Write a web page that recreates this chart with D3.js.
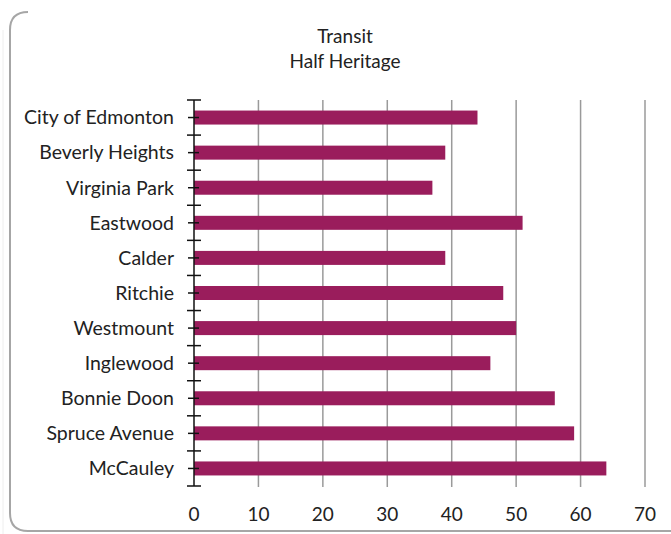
<!DOCTYPE html>
<html>
<head>
<meta charset="utf-8">
<script src="https://cdn.jsdelivr.net/npm/d3@7"></script>
<style>
  body { margin: 0; background: #fff; }
  svg { display: block; }
</style>
</head>
<body>
<div id="chart"></div>
<script>
var categories = ["City of Edmonton", "Beverly Heights", "Virginia Park", "Eastwood", "Calder",
  "Ritchie", "Westmount", "Inglewood", "Bonnie Doon", "Spruce Avenue", "McCauley"];
var values = [44, 39, 37, 51, 39, 48, 50, 46, 56, 59, 64];
var xTicks = [0, 10, 20, 30, 40, 50, 60, 70];
var titleLines = ["Transit", "Half Heritage"];

var width = 671, height = 534;
var plotLeft = 194, plotRight = 645, plotTop = 100, plotBottom = 486;
var font = "Lato, 'Open Sans', sans-serif";

var svg = d3.select("#chart").append("svg")
  .attr("width", width)
  .attr("height", height);

// chart border (rounded, mostly off the right/top edge)
svg.append("path")
  .attr("d", "M28,12 Q10,12 10,30 L10,513 Q10,531 28,531 L680,531")
  .style("fill", "none")
  .style("stroke", "#a6a6a6")
  .style("stroke-width", 2);
svg.append("line")
  .attr("x1", 3).attr("x2", 3).attr("y1", 30).attr("y2", 534)
  .style("stroke", "#eeeeee")
  .style("stroke-width", 1);

var x = d3.scaleLinear().domain([0, 70]).range([plotLeft, plotRight]);
var band = d3.scaleBand().domain(categories).range([plotTop, plotBottom]);

// gridlines
svg.append("g")
  .selectAll("line")
  .data(xTicks.slice(1))
  .join("line")
  .attr("x1", function(d) { return x(d); })
  .attr("x2", function(d) { return x(d); })
  .attr("y1", plotTop)
  .attr("y2", plotBottom + 1)
  .style("stroke", "#9a9a9a")
  .style("stroke-width", 1.5);

// bars
svg.append("g")
  .selectAll("rect")
  .data(values)
  .join("rect")
  .attr("x", x(0))
  .attr("y", function(d, i) { return band(categories[i]) + band.bandwidth() / 2 - 7; })
  .attr("width", function(d) { return x(d) - x(0); })
  .attr("height", 14)
  .style("fill", "#9a1d5c");

// category axis
var axis = svg.append("g");
axis.append("line")
  .attr("x1", plotLeft).attr("x2", plotLeft)
  .attr("y1", plotTop).attr("y2", plotBottom)
  .style("stroke", "#111")
  .style("stroke-width", 1.5);

var bounds = categories.map(function(c) { return band(c); }).concat([plotBottom]);
axis.selectAll("line.major")
  .data(bounds)
  .join("line")
  .attr("class", "major")
  .attr("x1", plotLeft - 7).attr("x2", plotLeft + 7)
  .attr("y1", function(d) { return d; })
  .attr("y2", function(d) { return d; })
  .style("stroke", "#111")
  .style("stroke-width", 1.5);

axis.selectAll("line.minor")
  .data(categories)
  .join("line")
  .attr("class", "minor")
  .attr("x1", plotLeft - 6).attr("x2", plotLeft + 5)
  .attr("y1", function(d) { return band(d) + band.bandwidth() / 2; })
  .attr("y2", function(d) { return band(d) + band.bandwidth() / 2; })
  .style("stroke", "#111")
  .style("stroke-width", 1.5);

axis.selectAll("text")
  .data(categories)
  .join("text")
  .attr("x", plotLeft - 20)
  .attr("y", function(d) { return band(d) + band.bandwidth() / 2; })
  .attr("dy", "0.35em")
  .style("font-family", font)
  .style("font-size", "19.5px")
  .style("text-anchor", "end")
  .style("fill", "#222")
  .text(function(d) { return d; });

// value labels
svg.append("g")
  .selectAll("text")
  .data(xTicks)
  .join("text")
  .attr("x", function(d) { return x(d); })
  .attr("y", 521)
  .style("font-family", font)
  .style("font-size", "19px")
  .style("text-anchor", "middle")
  .style("fill", "#222")
  .text(function(d) { return d; });

// title
svg.append("g")
  .selectAll("text")
  .data(titleLines)
  .join("text")
  .attr("x", 345)
  .attr("y", function(d, i) { return 43 + i * 25; })
  .style("font-family", font)
  .style("font-size", "19px")
  .style("text-anchor", "middle")
  .style("fill", "#222")
  .text(function(d) { return d; });
</script>
</body>
</html>
